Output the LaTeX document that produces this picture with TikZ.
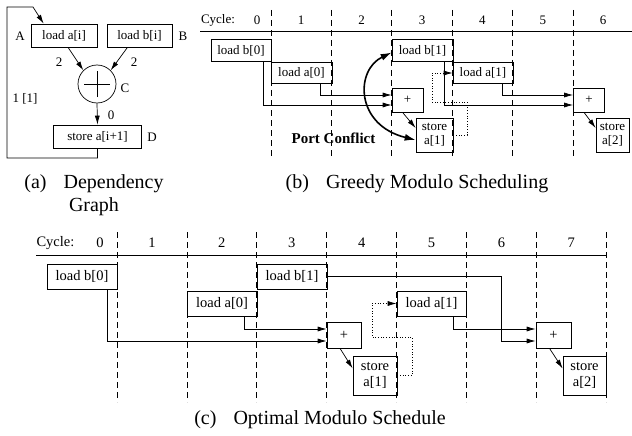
\documentclass[tikz,border=0pt]{standalone}
\usepackage{fontspec}
\setmainfont{Liberation Serif}
\usetikzlibrary{arrows.meta}

\begin{document}
\begin{tikzpicture}[x=1pt,y=-1pt,line width=0.7pt,
        >={Latex[length=9pt,width=5pt]},
        box/.style={draw,inner sep=0pt,align=center,font=\fontsize{13}{14}\selectfont},
        cbox/.style={box,font=\fontsize{14.5}{16}\selectfont},
        lbl/.style={font=\fontsize{13}{14}\selectfont},
        clbl/.style={font=\fontsize{14.5}{16}\selectfont},
        subcap/.style={font=\fontsize{20}{23}\selectfont,align=center},
        cyc/.style={dash pattern=on 6pt off 4pt},
        wire/.style={->},
        dep/.style={->,dotted}]
        \useasboundingbox (0,0) rectangle (632,436);
        % (a) dependency graph
        \node[box,minimum width=66pt,minimum height=23pt] (la) at (64,35.5) {load a[i]};
        \node[box,minimum width=65pt,minimum height=23pt] (lb) at (139.5,35.5) {load b[i]};
        \node[circle,draw,minimum size=38pt,inner sep=0pt] (c) at (97,84) {};
        \node[box,minimum width=88pt,minimum height=23pt] (st) at (97.5,136.5) {store a[i+1]};
        \draw ([xshift=-13pt]c.center) -- ([xshift=13pt]c.center);
        \draw ([yshift=-13pt]c.center) -- ([yshift=13pt]c.center);
        \draw[wire] ([xshift=4pt]la.south) -- (c.135);
        \draw[wire] ([xshift=-12pt]lb.south) -- (c.45);
        \draw[wire] (c.south) -- (st.north);
        \coordinate (lpb) at (7,158);
        \coordinate (lpt) at (7,7);
        \draw[wire] (st.south) |- (lpb) -- (lpt) -- (33,7) -- ([xshift=13pt]la.north west);
        \node[lbl] (A) at (20,36.5) {A};
        \node[lbl] (B) at (183,36.5) {B};
        \node[lbl] (C) at (125,88) {C};
        \node[lbl] (D) at (152,137) {D};
        \node[lbl] (wa) at (59,62) {2};
        \node[lbl] (wb) at (134,62) {2};
        \node[lbl] (wc) at (111,115) {0};
        \node[lbl] (wd) at (25,99) {1 [1]};
        \node[subcap] (capa) at (94,195.5) {(a)\hspace{17pt}Dependency\\Graph};

        % (b) greedy schedule
        \node[lbl] (bcyc) at (218,20) {Cycle:};
        \draw (200,31) -- (632,31);
        \foreach \i in {0,...,5}
                \draw[cyc] (271+60.4*\i,10) -- (271+60.4*\i,158);
        \node[lbl] at (257,20) {0};
        \foreach \k in {1,...,6}
                \node[lbl] at (240.8+60.4*\k,20) {\k};
        \node[box,minimum width=60pt,minimum height=21.5pt] (bb0) at (241,50.5) {load b[0]};
        \node[box,minimum width=61pt,minimum height=21.5pt] (ba0) at (301.5,73) {load a[0]};
        \node[box,minimum width=61pt,minimum height=21.5pt] (bb1) at (422.5,50.5) {load b[1]};
        \node[box,minimum width=60pt,minimum height=21.5pt] (ba1) at (483,73) {load a[1]};
        \node[box,minimum width=31pt,minimum height=24pt] (badd) at (407.5,100) {+};
        \node[box,minimum width=37pt,minimum height=34pt] (bst1) at (434.5,135) {store\\a[1]};
        \node[box,minimum width=31pt,minimum height=24pt] (badd2) at (589,100) {+};
        \node[box,minimum width=33pt,minimum height=34pt] (bst2) at (612.5,135) {store\\a[2]};
        \draw[wire] ([xshift=18.5pt]ba0.south) |- ([yshift=5pt]badd.west);
        \draw[wire] ([xshift=22pt]bb0.south) |- ([yshift=-5pt]badd.west);
        \draw[wire] ([xshift=21.5pt]bb1.south) |- ([yshift=-5pt]badd2.west);
        \draw[wire] ([xshift=19pt]ba1.south) |- ([yshift=5pt]badd2.west);
        \draw[wire] ([xshift=-5pt]badd.south) -- ([yshift=7pt]bst1.west);
        \draw[wire] ([xshift=-5pt]badd2.south) -- ([yshift=7pt]bst2.west);
        \draw[dep] (bst1.east) -| (467,102) -- (432,102) |- (ba1.west);
        \draw[{Latex[length=11pt,width=7pt]}-{Latex[length=11pt,width=7pt]},line width=1.6pt]
                ([yshift=-2pt]bb1.west) .. controls (355,70) and (355,125) .. ([yshift=-5pt]bst1.west);
        \node[font=\fontsize{15}{16}\selectfont\bfseries] (pc) at (333.5,138) {Port Conflict};
        \node[subcap] (capb) at (417,184) {(b)\hspace{17pt}Greedy Modulo Scheduling};

        % (c) optimal schedule
        \node[clbl] (ccyc) at (55.5,243) {Cycle:};
        \draw (36,255) -- (606,255);
        \foreach \i in {0,...,7}
                \draw[cyc] (117+69.9*\i,232) -- (117+69.9*\i,402);
        \node[clbl] at (100,243) {0};
        \foreach \k in {1,...,7}
                \node[clbl] at (82.05+69.9*\k,243) {\k};
        \node[cbox,minimum width=70pt,minimum height=25pt] (cb0) at (82,276.5) {load b[0]};
        \node[cbox,minimum width=70pt,minimum height=25pt] (ca0) at (222,303.5) {load a[0]};
        \node[cbox,minimum width=70pt,minimum height=25pt] (cb1) at (292,276.5) {load b[1]};
        \node[cbox,minimum width=69pt,minimum height=25pt] (ca1) at (431.5,303.5) {load a[1]};
        \node[cbox,minimum width=34pt,minimum height=26pt] (cadd) at (344,335) {+};
        \node[cbox,minimum width=44pt,minimum height=39pt] (cst1) at (375,375.5) {store\\a[1]};
        \node[cbox,minimum width=35pt,minimum height=26pt] (cadd2) at (553.5,335) {+};
        \node[cbox,minimum width=43pt,minimum height=39pt] (cst2) at (584.5,375.5) {store\\a[2]};
        \draw[wire] ([xshift=22pt]ca0.south) |- ([yshift=6pt]cadd.west);
        \draw[wire] ([xshift=25pt]cb0.south) |- ([yshift=-6pt]cadd.west);
        \draw[wire] (cb1.east) -- (501,276.5) |- ([yshift=-6pt]cadd2.west);
        \draw[wire] ([xshift=21.5pt]ca1.south) |- ([yshift=6pt]cadd2.west);
        \draw[wire] ([xshift=-4pt]cadd.south) -- ([yshift=7pt]cst1.west);
        \draw[wire] ([xshift=-4pt]cadd2.south) -- ([yshift=7pt]cst2.west);
        \draw[dep] (cst1.east) -| (412,337) -- (372,337) |- (ca1.west);
        \node[subcap] (capc) at (320,420) {(c)\hspace{17pt}Optimal Modulo Schedule};
\end{tikzpicture}
\end{document}
